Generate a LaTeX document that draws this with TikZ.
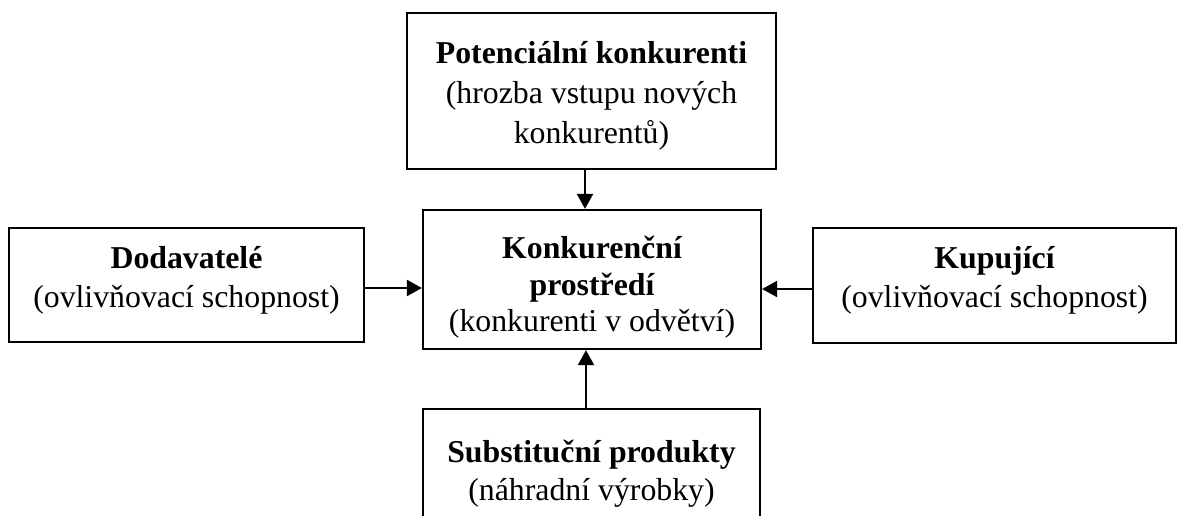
\documentclass[tikz,border=0pt]{standalone}
\usepackage{fontspec}
\setmainfont{Liberation Serif}
\usetikzlibrary{arrows.meta}
\begin{document}
\begin{tikzpicture}[x=1pt,y=-1pt,
  box/.style={draw, line width=2.3pt, inner sep=0pt, rectangle},
  txt/.style={anchor=base, inner sep=0pt, font=\fontsize{31.8}{40}\selectfont},
  btxt/.style={anchor=base, inner sep=0pt, font=\fontsize{31.8}{40}\selectfont\bfseries},
  arr/.style={line width=2.3pt, -{Triangle[length=15pt,width=16pt]}}]
\useasboundingbox (0,0) rectangle (1179,515);
% boxes
\node[box, minimum width=369pt, minimum height=156pt] (top) at (591.5,91) {};
\node[box, minimum width=338pt, minimum height=139pt] (ctr) at (592,279.5) {};
\node[box, minimum width=355pt, minimum height=114pt] (lft) at (186.5,285) {};
\node[box, minimum width=363pt, minimum height=115pt] (rgt) at (994.5,285.5) {};
\node[box, minimum width=337pt, minimum height=131pt] (bot) at (591.5,474.5) {};
% texts
\node[btxt] (t1) at (591.5,63) {Potenciální konkurenti};
\node[txt]  (t2) at (591.5,103) {(hrozba vstupu nových};
\node[txt]  (t3) at (591.5,143) {konkurentů)};
\node[btxt] (l1) at (186.5,268) {Dodavatelé};
\node[txt]  (l2) at (186.5,307) {(ovlivňovací schopnost)};
\node[btxt] (r1) at (994.5,268) {Kupující};
\node[txt]  (r2) at (994.5,307) {(ovlivňovací schopnost)};
\node[btxt] (c1) at (592,258) {Konkurenční};
\node[btxt] (c2) at (592,295) {prostředí};
\node[txt]  (c3) at (592,331) {(konkurenti v odvětví)};
\node[btxt] (b1) at (591.5,462) {Substituční produkty};
\node[txt]  (b2) at (591.5,500) {(náhradní výrobky)};
% arrows
\draw[arr] ([xshift=-6.5pt]top.south) -- ([xshift=-7pt]ctr.north);
\draw[arr] ([yshift=-3pt]lft.east) -- ([yshift=-3pt]lft.east -| ctr.west);
\draw[arr] ([yshift=-3.5pt]rgt.west) -- ([yshift=-3.5pt]rgt.west -| ctr.east);
\draw[arr] ([xshift=-5.5pt]bot.north) -- ([xshift=-6pt]ctr.south);
\end{tikzpicture}
\end{document}
